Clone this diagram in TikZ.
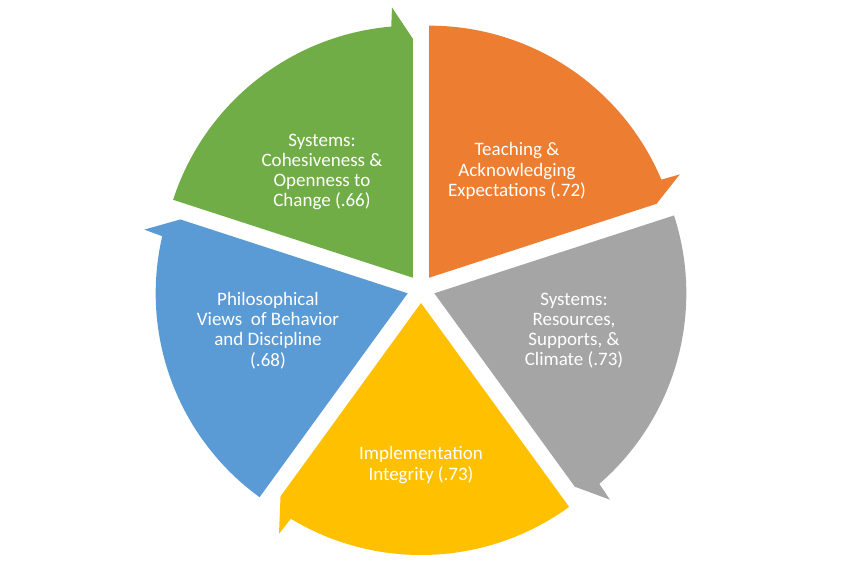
\documentclass[tikz,border=0pt]{standalone}
\usepackage{fontspec}
\setmainfont{Carlito}
\definecolor{cOrange}{HTML}{ED7D31}
\definecolor{cGray}{HTML}{A5A5A5}
\definecolor{cYellow}{HTML}{FFC000}
\definecolor{cBlue}{HTML}{5B9BD5}
\definecolor{cGreen}{HTML}{70AD47}
\newcommand\cycseg[2]{% #1 start angle, #2 colour
  \pgfmathsetmacro\segmid{#1-36}%
  \pgfmathsetmacro\segend{#1-72}%
  \begin{scope}[shift={(421,291)}, shift={(\segmid:14)}]
    \fill[#2] (0,0) -- (#1:252) arc[start angle=#1, end angle=\segend+4.9, radius=252]
      -- (\segend+4.4:271) -- (\segend:239) -- cycle;
  \end{scope}%
}
\begin{document}
\begin{tikzpicture}[x=1pt,y=1pt,
  lbl/.style={text=white, align=center, inner sep=0pt, font=\fontsize{19}{20.2}\selectfont}]
\useasboundingbox (0,0) rectangle (842,580);
\fill[white] (0,0) rectangle (842,580);
\cycseg{90}{cOrange}
\cycseg{18}{cGray}
\cycseg{-54}{cYellow}
\cycseg{-126}{cBlue}
\cycseg{162}{cGreen}
\node[lbl] (teach) at (517,409) {Teaching \&\\Acknowledging\\Expectations (.72)};
\node[lbl] (cohes) at (322,408) {Systems:\\Cohesiveness \&\\Openness to\\Change (.66)};
\node[lbl] (philo) at (268,249.5) {Philosophical\\Views\ \ of Behavior\\and Discipline\\(.68)};
\node[lbl] (impl) at (421,115) {Implementation\\Integrity (.73)};
\node[lbl] (resour) at (574,249.5) {Systems:\\Resources,\\Supports, \&\\Climate (.73)};
\end{tikzpicture}
\end{document}
